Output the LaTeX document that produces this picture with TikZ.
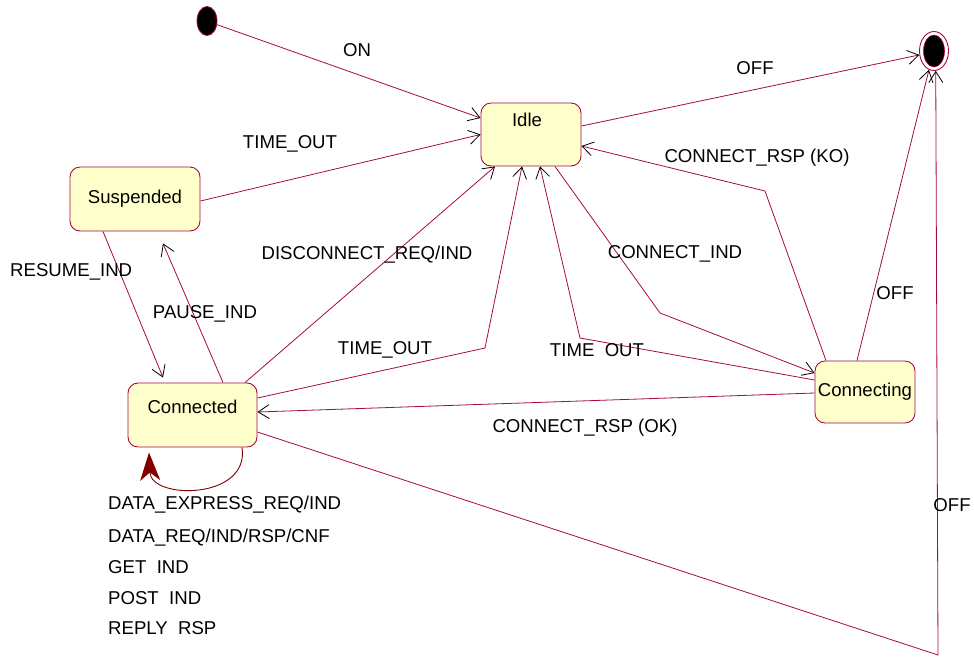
\documentclass[tikz,border=0pt]{standalone}
\usepackage{fontspec}
\setmainfont{Liberation Sans}
\usetikzlibrary{arrows.meta,shapes.geometric}
\definecolor{edge}{RGB}{165,10,65}
\definecolor{statefill}{RGB}{255,255,204}
\definecolor{loopred}{RGB}{128,0,0}
\begin{document}
\begin{tikzpicture}[x=1pt,y=-1pt,
  font=\fontsize{18.6}{21}\selectfont,
  state/.style={draw=edge, fill=statefill, rounded corners=10pt, line width=0.9pt, inner sep=0pt},
  trans/.style={draw=edge, line width=0.8pt, -{Straight Barb[length=11pt,width=14pt,color=black]}},
  lbl/.style={inner sep=0pt}]
\useasboundingbox (0,0) rectangle (974,657);

% states
\node[state, minimum width=100pt, minimum height=63pt, text depth=29pt] (idle) at (531,134.5) {Idle\hspace*{8pt}};
\node[state, minimum width=130pt, minimum height=64pt] (susp) at (135,199) {Suspended};
\node[state, minimum width=129pt, minimum height=64pt, text depth=16pt] (conn) at (192.5,415) {Connected};
\node[state, minimum width=100pt, minimum height=62pt] (cing) at (865,392) {Connecting};

% pseudo states
\node[ellipse, draw=edge, fill=black, minimum width=20pt, minimum height=29pt, inner sep=0pt, line width=0.8pt] (init) at (207,21) {};
\node[ellipse, draw=edge, fill=white, minimum width=29pt, minimum height=39pt, inner sep=0pt, line width=0.9pt] (final) at (934,51) {};
\node[ellipse, draw=edge, fill=black, minimum width=21pt, minimum height=32pt, inner sep=0pt, line width=0.6pt] (finalcore) at (final.center) {};

% bend points
\coordinate (bTO1) at (485,348);
\coordinate (bTO2) at (580,338);
\coordinate (bCI) at (660,313);
\coordinate (bKO) at (765,191);
\coordinate (bOFF) at (938,655);

% transitions
\draw[trans] (init.-20) -- ([yshift=16.5pt]idle.west);
\draw[trans] ([yshift=8.5pt]idle.east) -- (final.195);
\draw[trans] ([yshift=-2pt]susp.east) -- (idle.west);
\draw[trans] ([xshift=-32pt]susp.south) -- ([xshift=-29.5pt,yshift=5pt]conn.north);
\draw[trans] ([xshift=30.5pt]conn.north) -- ([xshift=28pt,yshift=-12pt]susp.south);
\draw[trans] ([xshift=52.5pt]conn.north) -- ([xshift=-36pt]idle.south);
\draw[trans] ([yshift=17pt]conn.east) -- (bTO1) -- ([xshift=-9pt]idle.south);
\draw[trans] ([yshift=12pt]cing.west) -- (bTO2) -- ([xshift=9pt]idle.south);
\draw[trans] ([xshift=24pt]idle.south) -- (bCI) -- ([yshift=19pt]cing.west);
\draw[trans] ([xshift=-39pt]cing.north) -- (bKO) -- ([yshift=-11.5pt]idle.east);
\draw[trans] ([yshift=-1pt]cing.west) -- ([yshift=3pt]conn.east);
\draw[trans] ([xshift=-8pt]cing.north) -- (final.-105);
\draw[trans] ([yshift=-17pt]conn.east) -- (bOFF) -- (final.-85);

% self transition on Connected
\draw[draw=loopred, line width=0.9pt, -{Stealth[length=28pt,width=20pt,inset=8pt,color=loopred]}]
  ([xshift=49.5pt]conn.south) .. controls (250,500) and (151,500) .. ([xshift=-43.5pt,yshift=-5pt]conn.south);

% labels
\node[lbl] (lon) at (357,50) {ON};
\node[lbl] (loff1) at (755,68) {OFF};
\node[lbl] (lto1) at (290,144) {TIME\_OUT};
\node[lbl] (lko) at (757,158) {CONNECT\_RSP (KO)};
\node[lbl, anchor=west] (lres) at (10,272) {RESUME\_IND};
\node[lbl] (lpause) at (205,314) {PAUSE\_IND};
\node[lbl] (ldisc) at (367,255) {DISCONNECT\_REQ/IND};
\node[lbl] (lcind) at (675,254) {CONNECT\_IND};
\node[lbl] (loff2) at (895,293) {OFF};
\node[lbl] (lto2) at (385,350) {TIME\_OUT};
\node[lbl] (lto3) at (597,350) {TIME\ \ OUT};
\node[lbl] (lok) at (585,428) {CONNECT\_RSP (OK)};
\node[lbl] (loff3) at (952,505) {OFF};

\node[lbl, anchor=west] (la1) at (108,505) {DATA\_EXPRESS\_REQ/IND};
\node[lbl, anchor=west] (la2) at (108,538) {DATA\_REQ/IND/RSP/CNF};
\node[lbl, anchor=west] (la3) at (108,567) {GET\ \ IND};
\node[lbl, anchor=west] (la4) at (108,598) {POST\ \ IND};
\node[lbl, anchor=west] (la5) at (108,628) {REPLY\ \ RSP};
\end{tikzpicture}
\end{document}
